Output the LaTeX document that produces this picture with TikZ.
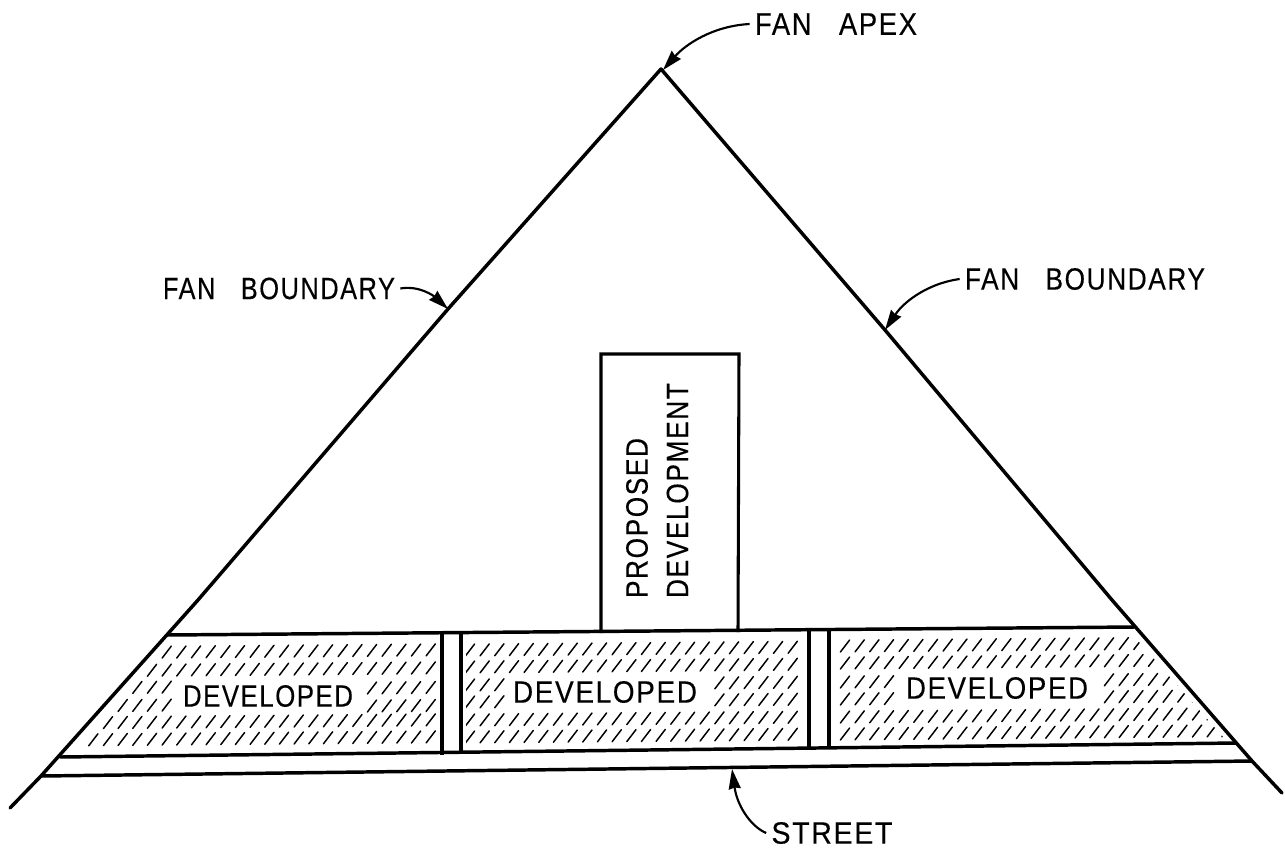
\documentclass[tikz,border=0pt]{standalone}
\usepackage{fontspec}
\usepackage{graphicx}
\setmainfont{Liberation Sans}[LetterSpace=6,FakeBold=0.35]
\usetikzlibrary{arrows.meta}
\newdimen\pxu \pxu=0.75pt
\newcommand{\lab}[2]{\resizebox{#1\pxu}{21.5\pxu}{#2}}
% one row of hatch dashes: first centre, last centre, y at left, left reference x
\newcommand{\hrow}[4]{%
  \pgfmathsetmacro{\nextx}{#1+14.67}%
  \foreach \hx in {#1,\nextx,...,#2}{%
    \draw[hatchline] ({\hx-4.6},{#3-0.0085*(\hx-#4)+6}) -- ({\hx+4.6},{#3-0.0085*(\hx-#4)-6});
  }}
\tikzset{
  boundary/.style={line width=2.6pt,line cap=round,line join=round},
  thinwall/.style={line width=2.3pt,line cap=butt},
  hatchline/.style={line width=1.1pt,line cap=round},
  leader/.style={line width=1.6pt,-{Stealth[length=15pt,width=9pt,inset=1pt]}},
  labeltext/.style={inner xsep=4pt,inner ysep=0pt,outer sep=0pt},
}
\begin{document}
\begin{tikzpicture}[x=0.75pt,y=-0.75pt]
\useasboundingbox (0,0) rectangle (1285,851);
\fill[white] (0,0) rectangle (1285,851);

% coordinates
\coordinate (apex) at (661,69);
\coordinate (leftend) at (10,808);
\coordinate (rightend) at (1282,793);
\coordinate (topL) at (167,635);
\coordinate (topR) at (1134,627);
\coordinate (midL) at (60,757);
\coordinate (midR) at (1236,743);
\coordinate (lowL) at (41,776);
\coordinate (lowR) at (1252,761);

% hatching, left block
\begin{scope}
\clip (167,641) -- (437,641) -- (437,749) -- (72,751) -- cycle;
\foreach \ry in {653,671,723,740}{\hrow{64}{431}{\ry}{64}}
\foreach \ry in {688,706}{\hrow{64}{167}{\ry}{64}\hrow{372}{431}{\ry}{372}}
\end{scope}
% hatching, middle block
\begin{scope}
\clip (466,640) -- (805,636) -- (805,744) -- (466,748) -- cycle;
\foreach \ry in {650,667,720,737}{\hrow{470}{801}{\ry}{470}}
\foreach \ry in {685,702}{\hrow{470}{500}{\ry}{470}\hrow{719.4}{801}{\ry-2.1}{719.4}}
\end{scope}
% hatching, right block
\begin{scope}
\clip (834,635) -- (1130,632) -- (1224,738) -- (834,742) -- cycle;
\foreach \ry in {646,663,717,734}{\hrow{845}{1230}{\ry}{845}}
\foreach \ry in {682,699}{\hrow{845}{890}{\ry}{845}\hrow{1109}{1230}{\ry-2.2}{1109}}
\end{scope}

% fan boundary (hand-drawn, slightly bent)
\draw[boundary] (leftend) -- (41,776) -- (198,600) -- (448,309) -- (apex)
  -- (885,330) -- (1112,600) -- (1252,761) -- (rightend);
% development lines and street
\draw[boundary] (topL) -- (topR);
\draw[boundary] (midL) -- (midR);
\draw[boundary] (lowL) -- (lowR);
% strips between the developed blocks
\draw[thinwall] (442,634) -- (442,755);
\draw[thinwall] (461,634) -- (461,754);
\draw[thinwall] (809,631) -- (809,749);
\draw[thinwall] (829,630) -- (829,748);
% proposed development
\draw[thinwall,line join=miter] (601,633) -- (601,354) -- (739,354) -- (738,632);

% labels
\node[labeltext] (apexlab) at (836,24) {\lab{162}{FAN\hspace{1em}APEX}};
\node[labeltext] (leftlab) at (279,288.5) {\lab{232}{FAN\hspace{1em}BOUNDARY}};
\node[labeltext] (rightlab) at (1085,279) {\lab{240}{FAN\hspace{1em}BOUNDARY}};
\node[labeltext] (streetlab) at (832,833) {\lab{121}{STREET}};
\node[labeltext] (dev1) at (268,696) {\lab{170}{DEVELOPED}};
\node[labeltext] (dev2) at (605,692) {\lab{184}{DEVELOPED}};
\node[labeltext] (dev3) at (997,688) {\lab{182}{DEVELOPED}};
\node[labeltext,rotate=90] (prop1) at (637,518) {\lab{160}{PROPOSED}};
\node[labeltext,rotate=90] (prop2) at (677.5,490.5) {\lab{215}{DEVELOPMENT}};

% leaders
\coordinate (apexhit) at (663,70);
\coordinate (lefthit) at (448,309);
\coordinate (righthit) at (885,330);
\coordinate (streethit) at (732,769);
\draw[leader] (apexlab.west) .. controls (712,26) and (685,45) .. (apexhit);
\draw[leader] (leftlab.east) .. controls (420,285) and (435,297) .. (lefthit);
\draw[leader] (rightlab.west) .. controls (930,283) and (905,300) .. (righthit);
\draw[leader] (streetlab.west) .. controls (750,826) and (737,805) .. (streethit);
\end{tikzpicture}
\end{document}
